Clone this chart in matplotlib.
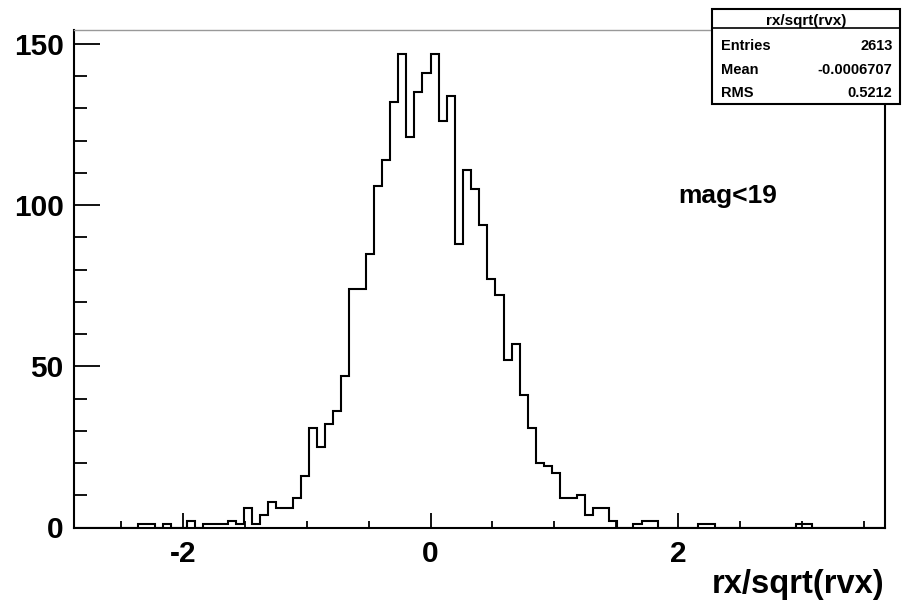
import numpy as np
import matplotlib
matplotlib.use("Agg")
import matplotlib.pyplot as plt
from matplotlib.patches import Rectangle
from matplotlib.lines import Line2D
from matplotlib.ticker import MultipleLocator

plt.rcParams['font.family'] = ['Liberation Sans', 'DejaVu Sans']

# histogram: 100 bins between x_min and x_max
x_min = -2.885
x_max = 3.672
n_bins = 100
counts = [
    0, 0, 0, 0, 0, 0, 0, 0, 1, 1,
    0, 1, 0, 0, 2, 0, 1, 1, 1, 2,
    1, 6, 1, 4, 8, 6, 6, 9, 16, 31,
    25, 32, 36, 47, 74, 74, 85, 106, 114, 132,
    147, 121, 135, 141, 147, 126, 134, 88, 111, 105,
    94, 77, 72, 52, 57, 41, 31, 20, 19, 17,
    9, 9, 10, 4, 6, 6, 2, 0, 0, 1,
    2, 2, 0, 0, 0, 0, 0, 1, 1, 0,
    0, 0, 0, 0, 0, 0, 0, 0, 0, 1,
    1, 0, 0, 0, 0, 0, 0, 0, 0, 0,
]
x_major = [-2, 0, 2]
y_major = [0, 50, 100, 150]

stat_title = "rx/sqrt(rvx)"
stat_names = ["Entries", "Mean", "RMS"]
stat_values = ["2613", "-0.0006707", "0.5212"]
cut_label = "mag<19"
x_label = "rx/sqrt(rvx)"

W, H = 902, 605
fig = plt.figure(figsize=(W / 100, H / 100), dpi=100)

def fx(px):
    return px / W

def fy(py):
    return 1 - py / H

ax = fig.add_axes([fx(73.5), fy(527.5), fx(885) - fx(73.5), fy(30) - fy(527.5)])

edges = np.linspace(x_min, x_max, n_bins + 1)
ax.stairs(counts, edges, color='black', linewidth=1.5, baseline=0)

ax.set_xlim(x_min, x_max)
ax.set_ylim(0, max(counts) * 1.05)

ax.set_xticks(x_major)
ax.set_xticklabels([str(v) for v in x_major])
ax.xaxis.set_minor_locator(MultipleLocator(0.5))
ax.set_yticks(y_major)
ax.set_yticklabels([str(v) for v in y_major])
ax.yaxis.set_minor_locator(MultipleLocator(10))

ax.tick_params(axis='x', which='major', direction='in', length=11, width=1.3,
               labelsize=21.5, pad=9, top=False)
ax.tick_params(axis='x', which='minor', direction='in', length=5, width=1.3, top=False)
ax.tick_params(axis='y', which='major', direction='in', length=19, width=1.3,
               labelsize=21.5, pad=7, right=False)
ax.tick_params(axis='y', which='minor', direction='in', length=9, width=1.3, right=False)
for lab in ax.get_xticklabels() + ax.get_yticklabels():
    lab.set_fontweight('bold')

for side in ['left', 'bottom', 'right']:
    ax.spines[side].set_linewidth(1.5)
    ax.spines[side].set_color('black')
ax.spines['top'].set_linewidth(1.0)
ax.spines['top'].set_color('#999999')

# axis title and cut label
fig.text(fx(884), fy(593), x_label, ha='right', va='baseline',
         fontsize=23.5, fontweight='bold')
fig.text(fx(678), fy(203), cut_label, ha='left', va='baseline',
         fontsize=19, fontweight='bold')

# stats box
bx0, bx1, by0, by1 = 711.7, 900, 8.7, 104
box = Rectangle((fx(bx0), fy(by1)), fx(bx1) - fx(bx0), fy(by0) - fy(by1),
                transform=fig.transFigure, facecolor='white', edgecolor='black',
                linewidth=1.5, zorder=5)
fig.patches.append(box)
fig.lines.append(Line2D([fx(bx0), fx(bx1)], [fy(28), fy(28)],
                        transform=fig.transFigure, color='black', linewidth=1.2, zorder=6))
fig.text(fx((bx0 + bx1) / 2), fy(25), stat_title, ha='center', va='baseline',
         fontsize=11, fontweight='bold', zorder=7)
row_base = [50, 73.5, 96.5]
for name, val, yb in zip(stat_names, stat_values, row_base):
    fig.text(fx(721.5), fy(yb), name, ha='left', va='baseline',
             fontsize=10.5, fontweight='bold', zorder=7)
    fig.text(fx(892.5), fy(yb), val, ha='right', va='baseline',
             fontsize=10.5, fontweight='bold', zorder=7)

fig.savefig("out.png", dpi=100)
